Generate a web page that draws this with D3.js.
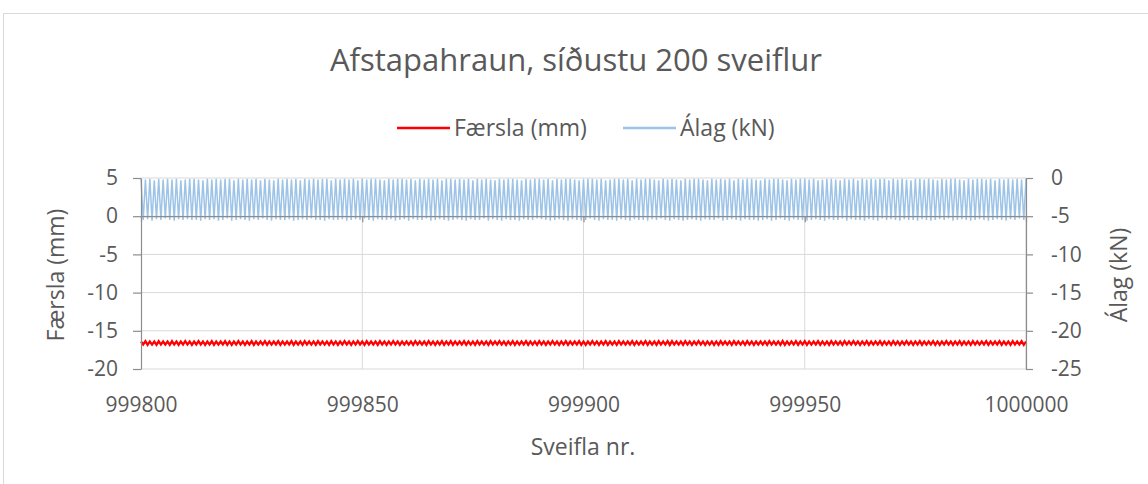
<!DOCTYPE html>
<html lang="is">
<head>
<meta charset="utf-8">
<script src="https://d3js.org/d3.v7.min.js"></script>
<style>
  body { margin: 0; background: #fff; }
  svg text { font-family: "Open Sans", sans-serif; fill: #595959; }
  .grid line { stroke: #d9d9d9; stroke-width: 1; }
  .axis path, .axis line { stroke: #8c8c8c; stroke-width: 1.2; }
</style>
</head>
<body>
<svg width="1148" height="484"></svg>
<script>
// texts
var title = "Afstapahraun, síðustu 200 sveiflur";
var seriesNames = ["Færsla (mm)", "Álag (kN)"];
var xTitle = "Sveifla nr.";

// tick values
var xTicks = [999800, 999850, 999900, 999950, 1000000];
var yLeftTicks = [5, 0, -5, -10, -15, -20];
var yRightTicks = [0, -5, -10, -15, -20, -25];

// cycle axis: start cycle, values read every half cycle (peak, trough, peak ...)
var firstCycle = 999800;
var lastCycle = 1000000;

// Álag (kN), peaks and troughs of each cycle
var alag = [
  -0.1,-5.5,-0.2,-5.4,-0.1,-5.6,-0.3,-5.4,-0.1,-5.5,-0.2,-5.3,-0.1,-5.5,-0.2,-5.6,-0.1,-5.4,-0.3,-5.5,
  -0.2,-5.4,-0.1,-5.5,-0.1,-5.5,-0.2,-5.6,-0.3,-5.4,-0.1,-5.5,-0.2,-5.4,-0.1,-5.6,-0.2,-5.5,-0.1,-5.3,
  -0.1,-5.6,-0.3,-5.5,-0.1,-5.4,-0.2,-5.5,-0.1,-5.6,-0.2,-5.4,-0.1,-5.5,-0.3,-5.3,-0.1,-5.5,-0.2,-5.6,
  -0.3,-5.4,-0.1,-5.5,-0.2,-5.5,-0.1,-5.4,-0.2,-5.6,-0.1,-5.5,-0.3,-5.4,-0.1,-5.5,-0.2,-5.3,-0.1,-5.5,
  -0.2,-5.5,-0.1,-5.6,-0.1,-5.4,-0.3,-5.5,-0.1,-5.5,-0.2,-5.4,-0.1,-5.6,-0.2,-5.5,-0.1,-5.4,-0.3,-5.5,
  -0.1,-5.3,-0.2,-5.5,-0.1,-5.6,-0.1,-5.4,-0.2,-5.5,-0.3,-5.5,-0.1,-5.4,-0.2,-5.6,-0.1,-5.5,-0.1,-5.4,
  -0.2,-5.6,-0.1,-5.4,-0.3,-5.5,-0.1,-5.5,-0.2,-5.3,-0.1,-5.6,-0.2,-5.5,-0.1,-5.4,-0.3,-5.5,-0.1,-5.6,
  -0.1,-5.5,-0.2,-5.4,-0.1,-5.5,-0.2,-5.6,-0.1,-5.4,-0.3,-5.5,-0.1,-5.5,-0.2,-5.3,-0.1,-5.6,-0.2,-5.4,
  -0.3,-5.5,-0.1,-5.6,-0.2,-5.4,-0.1,-5.5,-0.1,-5.5,-0.2,-5.6,-0.3,-5.4,-0.1,-5.5,-0.2,-5.5,-0.1,-5.3,
  -0.1,-5.4,-0.2,-5.5,-0.1,-5.6,-0.3,-5.5,-0.1,-5.4,-0.2,-5.5,-0.1,-5.6,-0.1,-5.4,-0.2,-5.5,-0.3,-5.6,
  -0.2,-5.5,-0.1,-5.3,-0.1,-5.5,-0.2,-5.6,-0.1,-5.4,-0.3,-5.5,-0.2,-5.5,-0.1,-5.6,-0.1,-5.4,-0.2,-5.5,
  -0.1,-5.6,-0.3,-5.4,-0.1,-5.5,-0.2,-5.5,-0.1,-5.6,-0.1,-5.4,-0.2,-5.5,-0.3,-5.3,-0.1,-5.5,-0.2,-5.6,
  -0.1,-5.4,-0.2,-5.5,-0.3,-5.6,-0.1,-5.5,-0.2,-5.4,-0.1,-5.5,-0.1,-5.6,-0.2,-5.4,-0.3,-5.5,-0.1,-5.5,
  -0.2,-5.3,-0.1,-5.6,-0.2,-5.5,-0.1,-5.4,-0.3,-5.5,-0.1,-5.6,-0.2,-5.4,-0.1,-5.5,-0.1,-5.5,-0.2,-5.6,
  -0.3,-5.5,-0.1,-5.4,-0.2,-5.6,-0.1,-5.5,-0.1,-5.3,-0.2,-5.5,-0.3,-5.6,-0.1,-5.4,-0.2,-5.5,-0.1,-5.5,
  -0.1,-5.6,-0.2,-5.5,-0.1,-5.4,-0.3,-5.5,-0.2,-5.6,-0.1,-5.4,-0.1,-5.5,-0.2,-5.5,-0.3,-5.3,-0.1,-5.6,
  -0.2,-5.4,-0.1,-5.5,-0.3,-5.5,-0.1,-5.6,-0.2,-5.4,-0.1,-5.5,-0.2,-5.6,-0.1,-5.3,-0.1,-5.5,-0.3,-5.4,
  -0.1,-5.5,-0.2,-5.6,-0.1,-5.4,-0.2,-5.5,-0.3,-5.5,-0.1,-5.6,-0.1,-5.4,-0.2,-5.5,-0.1,-5.6,-0.2,-5.5,
  -0.3,-5.4,-0.1,-5.5,-0.2,-5.3,-0.1,-5.6,-0.1,-5.5,-0.2,-5.4,-0.3,-5.5,-0.1,-5.6,-0.2,-5.5,-0.1,-5.4,
  -0.1,-5.5,-0.2,-5.6,-0.1,-5.5,-0.3,-5.4,-0.1,-5.5,-0.2,-5.6,-0.1,-5.4,-0.2,-5.5,-0.1,-5.3,-0.2,-5.5,
  -0.1
];

// Færsla (mm), peaks and troughs of each cycle
var faersla = [
  -16.4,-16.8,-16.35,-16.85,-16.4,-16.8,-16.4,-16.85,-16.35,-16.8,-16.4,-16.8,-16.4,-16.85,-16.35,-16.8,-16.4,-16.85,-16.4,-16.8,
  -16.35,-16.8,-16.4,-16.85,-16.4,-16.8,-16.35,-16.8,-16.4,-16.85,-16.4,-16.8,-16.35,-16.85,-16.4,-16.8,-16.4,-16.8,-16.35,-16.85,
  -16.4,-16.85,-16.4,-16.8,-16.35,-16.8,-16.4,-16.85,-16.4,-16.8,-16.35,-16.85,-16.4,-16.8,-16.4,-16.8,-16.35,-16.85,-16.4,-16.8,
  -16.4,-16.8,-16.35,-16.85,-16.4,-16.8,-16.4,-16.8,-16.35,-16.85,-16.4,-16.8,-16.4,-16.85,-16.35,-16.8,-16.4,-16.8,-16.4,-16.85,
  -16.35,-16.8,-16.4,-16.8,-16.4,-16.85,-16.35,-16.8,-16.4,-16.85,-16.4,-16.8,-16.35,-16.8,-16.4,-16.85,-16.4,-16.8,-16.35,-16.8,
  -16.4,-16.85,-16.35,-16.8,-16.4,-16.8,-16.4,-16.85,-16.35,-16.8,-16.4,-16.85,-16.4,-16.8,-16.35,-16.8,-16.4,-16.85,-16.4,-16.8,
  -16.4,-16.8,-16.4,-16.85,-16.35,-16.8,-16.4,-16.8,-16.4,-16.85,-16.35,-16.8,-16.4,-16.85,-16.4,-16.8,-16.35,-16.85,-16.4,-16.8,
  -16.35,-16.85,-16.4,-16.8,-16.4,-16.8,-16.35,-16.85,-16.4,-16.8,-16.4,-16.85,-16.35,-16.8,-16.4,-16.8,-16.4,-16.85,-16.35,-16.8,
  -16.4,-16.8,-16.35,-16.8,-16.4,-16.85,-16.4,-16.8,-16.35,-16.85,-16.4,-16.8,-16.4,-16.8,-16.35,-16.85,-16.4,-16.8,-16.4,-16.85,
  -16.35,-16.8,-16.4,-16.85,-16.4,-16.8,-16.35,-16.8,-16.4,-16.85,-16.4,-16.8,-16.35,-16.85,-16.4,-16.8,-16.4,-16.8,-16.35,-16.85,
  -16.4,-16.85,-16.4,-16.8,-16.35,-16.8,-16.4,-16.85,-16.4,-16.8,-16.35,-16.85,-16.4,-16.8,-16.4,-16.85,-16.35,-16.8,-16.4,-16.8,
  -16.4,-16.8,-16.35,-16.85,-16.4,-16.8,-16.4,-16.8,-16.35,-16.85,-16.4,-16.8,-16.4,-16.85,-16.35,-16.8,-16.4,-16.8,-16.35,-16.85,
  -16.35,-16.8,-16.4,-16.8,-16.4,-16.85,-16.35,-16.8,-16.4,-16.85,-16.4,-16.8,-16.35,-16.8,-16.4,-16.85,-16.4,-16.8,-16.4,-16.85,
  -16.4,-16.85,-16.35,-16.8,-16.4,-16.8,-16.4,-16.85,-16.35,-16.8,-16.4,-16.8,-16.4,-16.85,-16.35,-16.8,-16.4,-16.85,-16.4,-16.8,
  -16.4,-16.8,-16.4,-16.85,-16.35,-16.8,-16.4,-16.8,-16.4,-16.85,-16.35,-16.85,-16.4,-16.8,-16.4,-16.8,-16.35,-16.85,-16.4,-16.8,
  -16.35,-16.85,-16.4,-16.8,-16.4,-16.8,-16.35,-16.85,-16.4,-16.8,-16.4,-16.85,-16.35,-16.8,-16.4,-16.8,-16.4,-16.85,-16.35,-16.8,
  -16.4,-16.8,-16.35,-16.8,-16.4,-16.85,-16.4,-16.8,-16.35,-16.85,-16.4,-16.8,-16.4,-16.8,-16.35,-16.85,-16.4,-16.8,-16.4,-16.85,
  -16.35,-16.8,-16.4,-16.85,-16.4,-16.8,-16.35,-16.8,-16.4,-16.85,-16.4,-16.8,-16.35,-16.85,-16.4,-16.8,-16.4,-16.8,-16.35,-16.85,
  -16.4,-16.85,-16.4,-16.8,-16.35,-16.8,-16.4,-16.85,-16.4,-16.8,-16.35,-16.85,-16.4,-16.8,-16.4,-16.85,-16.35,-16.8,-16.4,-16.8,
  -16.4,-16.8,-16.35,-16.85,-16.4,-16.8,-16.4,-16.8,-16.35,-16.85,-16.4,-16.8,-16.4,-16.85,-16.35,-16.8,-16.4,-16.8,-16.35,-16.85,
  -16.4
];

var svg = d3.select("svg"),
    width = +svg.attr("width"),
    height = +svg.attr("height");

var plot = {left: 141, right: 1026, top: 178, bottom: 369};
var plain = function(d) { return String(d); }; // hyphen minus, no thousands separator

var x = d3.scaleLinear().domain([firstCycle, lastCycle]).range([plot.left, plot.right]);
var yL = d3.scaleLinear().domain([-20, 5]).range([plot.bottom, plot.top]);
var yR = d3.scaleLinear().domain([-25, 0]).range([plot.bottom, plot.top]);

// chart frame
svg.append("rect")
    .attr("x", 3.5).attr("y", 13.5)
    .attr("width", width + 20).attr("height", height + 20)
    .attr("fill", "#fff")
    .attr("stroke", "#d9d9d9");

// title
svg.append("text")
    .attr("x", 576).attr("y", 71)
    .attr("text-anchor", "middle")
    .style("font-size", "31px")
    .text(title);

// legend
var legend = [
  {name: seriesNames[0], color: "#ff0000", x: 397},
  {name: seriesNames[1], color: "#9dc3e6", x: 623}
];
var lg = svg.selectAll(".legend").data(legend).enter().append("g").attr("class", "legend");
lg.append("line")
    .attr("x1", function(d) { return d.x; })
    .attr("x2", function(d) { return d.x + 53; })
    .attr("y1", 128).attr("y2", 128)
    .attr("stroke", function(d) { return d.color; })
    .attr("stroke-width", 2.5);
lg.append("text")
    .attr("x", function(d) { return d.x + 57; })
    .attr("y", 136)
    .style("font-size", "23px")
    .text(function(d) { return d.name; });

// gridlines
var grid = svg.append("g").attr("class", "grid");
grid.selectAll(".h").data(yLeftTicks).enter().append("line")
    .attr("x1", plot.left).attr("x2", plot.right)
    .attr("y1", function(d) { return yL(d); })
    .attr("y2", function(d) { return yL(d); });
grid.selectAll(".v").data(xTicks.slice(1)).enter().append("line")
    .attr("x1", function(d) { return x(d); })
    .attr("x2", function(d) { return x(d); })
    .attr("y1", plot.top).attr("y2", plot.bottom);

// series
var pts = function(vals) {
  return vals.map(function(v, i) { return [firstCycle + i / 2, v]; });
};

svg.append("path")
    .datum(pts(alag))
    .attr("fill", "none")
    .attr("stroke", "#9dc3e6")
    .attr("stroke-width", 1.5)
    .attr("d", d3.line().x(function(d) { return x(d[0]); }).y(function(d) { return yR(d[1]); }));

svg.append("path")
    .datum(pts(faersla))
    .attr("fill", "none")
    .attr("stroke", "#ff0000")
    .attr("stroke-width", 2.25)
    .attr("d", d3.line().x(function(d) { return x(d[0]); }).y(function(d) { return yL(d[1]); }));

// horizontal axis line crosses at 0
svg.append("g")
    .attr("class", "axis")
    .attr("transform", "translate(0," + yL(0) + ")")
    .call(d3.axisBottom(x).tickValues(xTicks).tickSize(6).tickSizeOuter(0).tickFormat(""));

// bottom tick labels
svg.append("g")
    .attr("transform", "translate(0," + plot.bottom + ")")
    .call(d3.axisBottom(x).tickValues(xTicks).tickSize(0).tickPadding(28).tickFormat(plain))
    .call(function(g) { g.select(".domain").remove(); })
    .selectAll("text")
    .style("font-size", "21px")
    .attr("fill", "#595959");

// left axis
var gl = svg.append("g")
    .attr("class", "axis")
    .attr("transform", "translate(" + plot.left + ",0)")
    .call(d3.axisLeft(yL).tickValues(yLeftTicks).tickSize(8).tickSizeOuter(0).tickPadding(15).tickFormat(plain));
gl.selectAll("text").style("font-size", "21px").attr("fill", "#595959");

// right axis
var gr = svg.append("g")
    .attr("class", "axis")
    .attr("transform", "translate(" + plot.right + ",0)")
    .call(d3.axisRight(yR).tickValues(yRightTicks).tickSize(7).tickSizeOuter(0).tickPadding(18).tickFormat(plain));
gr.selectAll("text").style("font-size", "21px").attr("fill", "#595959");

// axis titles
svg.append("text")
    .attr("transform", "translate(64,275) rotate(-90)")
    .attr("text-anchor", "middle")
    .style("font-size", "23px")
    .text(seriesNames[0]);

svg.append("text")
    .attr("transform", "translate(1127,275) rotate(-90)")
    .attr("text-anchor", "middle")
    .style("font-size", "23px")
    .text(seriesNames[1]);

svg.append("text")
    .attr("x", 583).attr("y", 455)
    .attr("text-anchor", "middle")
    .style("font-size", "23px")
    .text(xTitle);
</script>
</body>
</html>
